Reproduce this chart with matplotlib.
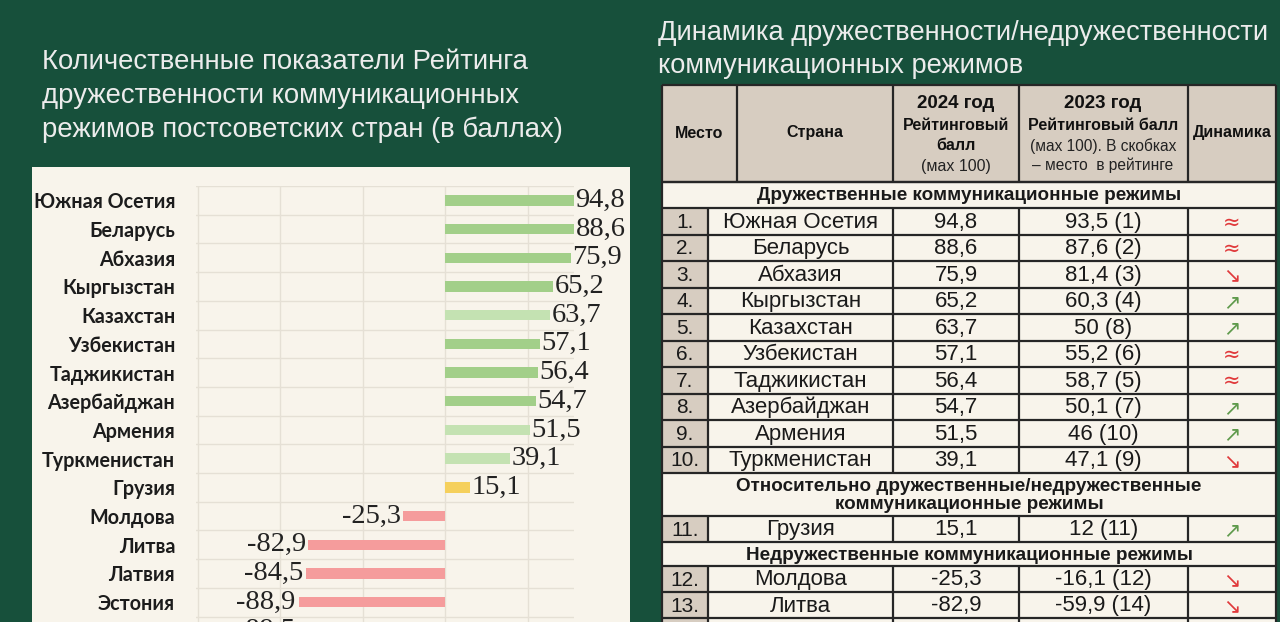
import matplotlib
matplotlib.use("Agg")
import matplotlib.pyplot as plt
from matplotlib.patches import Rectangle
import numpy as np

# ---- data -------------------------------------------------------------
countries = ["Южная Осетия", "Беларусь", "Абхазия", "Кыргызстан", "Казахстан",
             "Узбекистан", "Таджикистан", "Азербайджан", "Армения", "Туркменистан",
             "Грузия", "Молдова", "Литва", "Латвия", "Эстония", "Украина"]
score_2024 = [94.8, 88.6, 75.9, 65.2, 63.7, 57.1, 56.4, 54.7, 51.5, 39.1,
              15.1, -25.3, -82.9, -84.5, -88.9, -89.5]
bar_kind = ["g", "g", "g", "g", "lg", "g", "g", "g", "lg", "lg",
            "y", "r", "r", "r", "r", "r"]

table_place = ["1.", "2.", "3.", "4.", "5.", "6.", "7.", "8.", "9.", "10.",
               "11.", "12.", "13."]
score_2023 = ["93,5 (1)", "87,6 (2)", "81,4 (3)", "60,3 (4)", "50 (8)", "55,2 (6)",
              "58,7 (5)", "50,1 (7)", "46 (10)", "47,1 (9)", "12 (11)",
              "-16,1 (12)", "-59,9 (14)"]
dynamics = ["≈", "≈", "↘", "↗", "↗", "≈", "≈", "↗", "↗", "↘", "↗", "↘", "↘"]
sections = ["Дружественные коммуникационные режимы",
            "Относительно дружественные/недружественные\nкоммуникационные режимы",
            "Недружественные коммуникационные режимы"]

# ---- style ------------------------------------------------------------
BG = "#17503b"
CREAM = "#f8f4eb"
TAN = "#d7cdc1"
LINE = "#262626"
bar_colors = {"g": "#a2cf89", "lg": "#c4e2b2", "y": "#f5d05c", "r": "#f59c9c"}
dyn_colors = {"≈": "#e0393b", "↘": "#e0393b", "↗": "#5f9a4c"}

W, H = 1280, 622
fig = plt.figure(figsize=(W / 100, H / 100), dpi=100, facecolor=BG)

# overlay in pixel coordinates for panel, titles and table
ov = fig.add_axes([0, 0, 1, 1])
ov.set_xlim(0, W)
ov.set_ylim(H, 0)
ov.axis("off")

ov.add_patch(Rectangle((32, 167), 598, 470, facecolor=CREAM, edgecolor="none"))

title_font = dict(family="Liberation Sans", color="#ececec")
ov.text(42, 62, "Количественные показатели Рейтинга", va="center", fontsize=19.8, **title_font)
ov.text(42, 96, "дружественности коммуникационных", va="center", fontsize=19.8, **title_font)
ov.text(42, 130, "режимов постсоветских стран (в баллах)", va="center", fontsize=19.8, **title_font)
ov.text(658, 33, "Динамика дружественности/недружественности", va="center", fontsize=19.6, **title_font)
ov.text(658, 66, "коммуникационных режимов", va="center", fontsize=19.6, **title_font)

# ---- bar chart --------------------------------------------------------
n = len(countries)
row_px = 28.7
top_px, left_px, right_px = 186, 196, 574
xmin, xmax = -151, 78
ax_h = n * row_px
ax = fig.add_axes([left_px / W, (H - top_px - ax_h) / H,
                   (right_px - left_px) / W, ax_h / H])
ax.set_facecolor("none")
y = np.arange(n)
ax.barh(y, score_2024, height=0.36, color=[bar_colors[k] for k in bar_kind], zorder=3)
ax.set_xlim(xmin, xmax)
ax.set_ylim(n - 0.5, -0.5)
ax.set_xticks([-150, -100, -50, 0, 50])
ax.set_yticks(y)
ax.set_yticklabels(countries, fontfamily="Lato", fontweight="bold", fontsize=14.2,
                   color="#1c1c1c")
ax.set_yticks(np.arange(n + 1) - 0.5, minor=True)
ax.tick_params(axis="y", which="both", length=0, pad=15)
ax.tick_params(axis="x", length=0, labelbottom=False)
ax.grid(axis="x", color="#e5e0d5", linewidth=1, zorder=0)
ax.grid(axis="y", which="minor", color="#e5e0d5", linewidth=1, zorder=0)
for s in ax.spines.values():
    s.set_visible(False)

for yi, v in zip(y, score_2024):
    xe = min(v, xmax)
    txt = f"{v:.1f}".replace(".", ",")
    ax.annotate(txt, (xe, yi), xytext=(1 if v > 0 else -2, 0),
                textcoords="offset points", ha="left" if v > 0 else "right",
                va="center", fontfamily="Liberation Serif", fontsize=20.5,
                color="#222222", annotation_clip=False, clip_on=False)

# ---- table ------------------------------------------------------------
tx = [662, 708, 893, 1019, 1188, 1276]
hx = [662, 737, 893, 1019, 1188, 1276]
lw = 1.6

def hline(yy):
    ov.plot([tx[0], tx[-1]], [yy, yy], color=LINE, lw=lw, solid_capstyle="butt")

def vlines(xs, y0, y1):
    for xx in xs:
        ov.plot([xx, xx], [y0, y1], color=LINE, lw=lw, solid_capstyle="butt")

# header
ov.add_patch(Rectangle((tx[0], 85), tx[-1] - tx[0], 97, facecolor=TAN, edgecolor="none"))
hline(85)
vlines(hx, 85, 182)
hb = dict(family="Liberation Sans", fontweight="bold", color="#111111", ha="center", va="center")
hn = dict(family="Liberation Sans", color="#222222", ha="center", va="center")
ov.text(699, 133, "Место", fontsize=11.5, **hb)
ov.text(815, 133, "Страна", fontsize=11.5, **hb)
ov.text(956, 103, "2024 год", fontsize=13.5, **hb)
ov.text(956, 125, "Рейтинговый", fontsize=11.5, **hb)
ov.text(956, 146, "балл", fontsize=11.5, **hb)
ov.text(956, 167, "(мах 100)", fontsize=11.5, **hn)
ov.text(1103, 104, "2023 год", fontsize=13.5, **hb)
ov.text(1103, 125, "Рейтинговый балл", fontsize=11.5, **hb)
ov.text(1103, 146, "(мах 100). В скобках", fontsize=11.2, **hn)
ov.text(1103, 165, "– место  в рейтинге", fontsize=11.2, **hn)
ov.text(1232, 133, "Динамика", fontsize=11.5, **hb)

# body layout: (kind, top, bottom, index)
rows = [("sec", 182, 208, 0)]
for i in range(10):
    rows.append(("row", 208 + 26.5 * i, 208 + 26.5 * (i + 1), i))
rows += [("sec", 473, 516, 1), ("row", 516, 542, 10), ("sec", 542, 566, 2),
         ("row", 566, 592, 11), ("row", 592, 618, 12), ("row", 618, 645, None)]

cf = dict(family="Liberation Sans", color="#1a1a1a", ha="center", va="center")
for kind, y0, y1, idx in rows:
    ov.add_patch(Rectangle((tx[0], y0), tx[-1] - tx[0], y1 - y0,
                           facecolor=CREAM, edgecolor="none"))
    hline(y0)
    yc = (y0 + y1) / 2
    if kind == "sec":
        vlines([tx[0], tx[-1]], y0, y1)
        ov.text((tx[0] + tx[-1]) / 2, yc + 1, sections[idx], fontsize=13.6,
                fontweight="bold", linespacing=1.12, **cf)
        continue
    ov.add_patch(Rectangle((tx[0], y0), tx[1] - tx[0], y1 - y0,
                           facecolor=TAN, edgecolor="none"))
    vlines(tx, y0, y1)
    if idx is None:
        continue
    ov.text((tx[0] + tx[1]) / 2, yc + 1, table_place[idx], fontsize=15, **cf)
    ov.text((tx[1] + tx[2]) / 2, yc + 1, countries[idx], fontsize=16, **cf)
    ov.text((tx[2] + tx[3]) / 2, yc + 1, f"{score_2024[idx]:.1f}".replace(".", ","),
            fontsize=16, **cf)
    ov.text((tx[3] + tx[4]) / 2, yc + 1, score_2023[idx], fontsize=16, **cf)
    d = dynamics[idx]
    ov.text((tx[4] + tx[5]) / 2, yc + 1, d, fontsize=15,
            family=["DejaVu Sans"], color=dyn_colors[d],
            ha="center", va="center")
hline(182)

fig.savefig("out.png", dpi=100, facecolor=BG)
